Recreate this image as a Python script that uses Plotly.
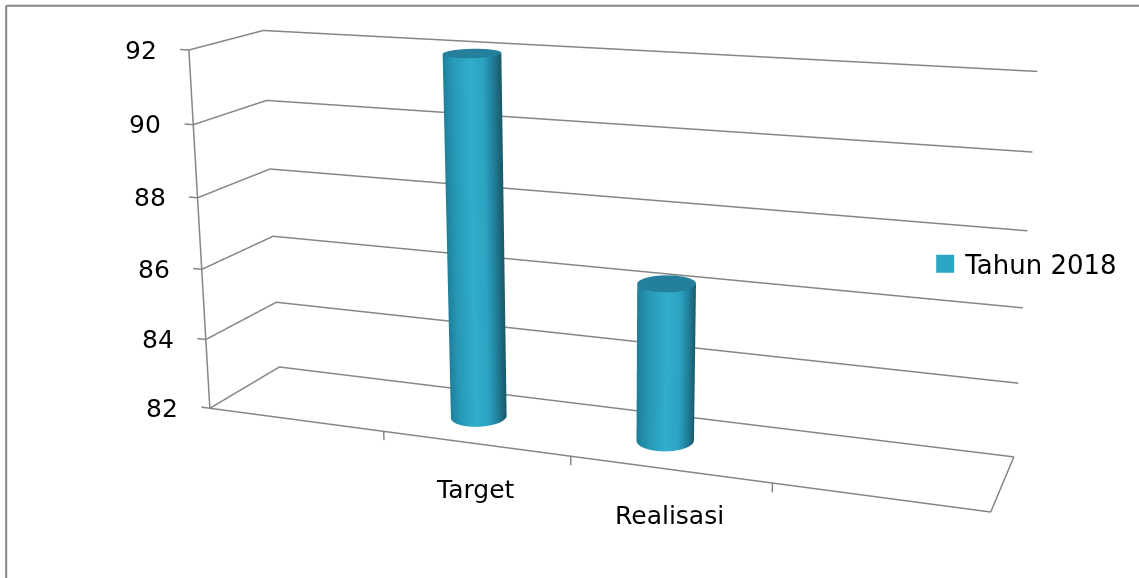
import numpy as np
import plotly.graph_objects as go

categories = ["Target", "Realisasi"]
series_name = "Tahun 2018"
values = [92, 86.3]
z_ticks = [82, 84, 86, 88, 90, 92]
x_edges = [1, 2, 3]

W, H = 1139, 578
# Camera solved from the reference's box corners (box units, aspect x = 1)
EYE0 = np.array([0.7554, -2.0555, 0.5773])
CEN0 = np.array([-0.0062, -0.033, -0.0067])
ASP_Y, ASP_Z = 0.1806, 0.466
UP = (-0.025, 0.0758, 1)
FOCAL, PX0, PY0 = 1864.4, 581.8, 262.7

H2 = int(round(2*FOCAL*np.tan(np.pi/8)))
W2 = int(round(2*max(PX0, W-PX0)))+2
dx = W2/2-PX0
dy = H2/2-PY0
PX = lambda X: (X+dx)/W2
PY = lambda Y: 1-(Y+dy)/H2

# ranges slightly wider than the box, so tick stubs are not clipped
xr0, yr0, zr0 = (0, 4), (0, 1), (82, 92)
xr, yr, zr = (-.1, 4), (-.05, 1), (81.6, 92.1)
asp0 = np.array([1, ASP_Y, ASP_Z])
rng = lambda r: r[1]-r[0]
shift = np.array([(sum(xr)-sum(xr0))/2/rng(xr0), (sum(yr)-sum(yr0))/2/rng(yr0), (sum(zr)-sum(zr0))/2/rng(zr0)])*asp0
eye = EYE0-shift
cen = CEN0-shift
asp = asp0*np.array([rng(xr)/rng(xr0), rng(yr)/rng(yr0), rng(zr)/rng(zr0)])

fig = go.Figure()
rx, ry = .14, .21
bar_shift = -.14
th = np.linspace(0, 2*np.pi, 181)
# shade across the cylinder as seen on screen, from its left edge (0) to its right edge (1)
shade_pos = [0, .20, .49, .71, .86, .97, 1]
shade_rgb = np.array([[0x1f, 0x7f, 0x99], [0x27, 0x9a, 0xb8], [0x32, 0xae, 0xcd], [0x2c, 0xa3, 0xc1], [0x21, 0x7f, 0x9b], [0x1c, 0x61, 0x73], [0x1a, 0x5a, 0x6d]], float)
flat = dict(ambient=1, diffuse=0, specular=0, fresnel=0)
view = CEN0-EYE0
right = np.cross(view, np.array(UP, float))
right = right/np.linalg.norm(right)
sA = right[0]*rx/rng(xr0)
sB = right[1]*ry*ASP_Y/rng(yr0)
for i, v in enumerate(values):
    cx = 1.5+i+bar_shift
    cy = .5
    n = len(th)
    xs = np.concatenate([cx+rx*np.cos(th)]*2)
    ys = np.concatenate([cy+ry*np.sin(th)]*2)
    zs = np.concatenate([np.full(n, 82.), np.full(n, float(v))])
    pos = ((sA*np.cos(th)+sB*np.sin(th))/np.hypot(sA, sB)+1)/2
    rgb = np.stack([np.interp(pos, shade_pos, shade_rgb[:, c]) for c in range(3)], 1)
    vc = ["rgb(%d,%d,%d)" % tuple(c) for c in rgb]*2
    a = np.arange(n-1)
    fig.add_trace(go.Mesh3d(x=xs, y=ys, z=zs, i=np.r_[a, a+1], j=np.r_[a+1, a+1+n], k=np.r_[a+n, a+n],
                            vertexcolor=vc, lighting=flat, hoverinfo="skip", flatshading=False))
    X2 = np.array([cx+0*th, cx+rx*np.cos(th)])
    Y2 = np.array([cy+0*th, cy+ry*np.sin(th)])
    fig.add_trace(go.Surface(x=X2, y=Y2, z=np.full(X2.shape, float(v)), surfacecolor=np.zeros(X2.shape), colorscale=[[0, "#237f9b"], [1, "#237f9b"]], showscale=False, lighting=flat, hoverinfo="skip"))
fig.add_trace(go.Scatter3d(x=[None], y=[None], z=[None], mode="markers", name=series_name,
                           marker=dict(symbol="square", size=18, color="#2ca5c4", line=dict(color="#2ca5c4", width=2)), showlegend=True))
grid = dict(color="#868686", width=3)
def seg(xs, ys, zs):
    fig.add_trace(go.Scatter3d(x=list(xs), y=list(ys), z=list(zs), mode="lines", line=grid, showlegend=False, hoverinfo="skip"))
for t in z_ticks:
    seg((-.05, 0, 0, 4), (0, 0, 1, 1), (t, t, t, t))
for t in x_edges:
    seg((t, t), (0, 0), (82, 81.75))
seg((0, 4, 4), (0, 0, 1), (82, 82, 82))
seg((0, 0), (0, 0), (82, 92))

font = dict(family="DejaVu Sans", size=25, color="#000")
ax = dict(showbackground=False, zeroline=False, title="", showspikes=False, showgrid=False, showticklabels=False, ticks="", showline=False)
ann3 = [dict(x=0, y=0, z=t, text=str(t), showarrow=False, xanchor="right", yanchor="middle", xshift=-30, font=font) for t in z_ticks]
ann3 += [dict(x=1.5+i, y=0, z=82, text=c_, showarrow=False, xanchor="center", yanchor="middle", yshift=-46, font=font) for i, c_ in enumerate(categories)]
fig.update_layout(
    width=W2, height=H2, margin=dict(l=0, r=0, t=0, b=0), paper_bgcolor="white",
    font=font, showlegend=True, hovermode=False,
    legend=dict(x=PX(925), y=PY(264), xanchor="left", yanchor="middle", bgcolor="rgba(0,0,0,0)", font=dict(size=26, family="DejaVu Sans")),
    scene=dict(
        domain=dict(x=[0, 1], y=[0, 1]),
        camera=dict(eye=dict(x=eye[0], y=eye[1], z=eye[2]), center=dict(x=cen[0], y=cen[1], z=cen[2]), up=dict(x=UP[0], y=UP[1], z=UP[2]),
                    projection=dict(type="perspective")),
        aspectmode="manual", aspectratio=dict(x=asp[0], y=asp[1], z=asp[2]),
        xaxis=dict(ax, range=xr), yaxis=dict(ax, range=yr), zaxis=dict(ax, range=zr),
        annotations=ann3,
    ),
    shapes=[dict(type="line", xref="paper", yref="paper", x0=PX(6), x1=PX(1145), y0=PY(6), y1=PY(6), line=dict(color="#868686", width=2)),
            dict(type="line", xref="paper", yref="paper", x0=PX(6), x1=PX(6), y0=PY(6), y1=PY(590), line=dict(color="#868686", width=2))],
)
post = ("document.documentElement.style.overflow='hidden';document.body.style.overflow='hidden';document.body.style.margin='0';"
        "var d=document.querySelector('.plotly-graph-div');d.style.position='absolute';d.style.left='%dpx';d.style.top='%dpx';" % (-round(dx), -round(dy)))
fig.write_html("out.html", post_script=post)
